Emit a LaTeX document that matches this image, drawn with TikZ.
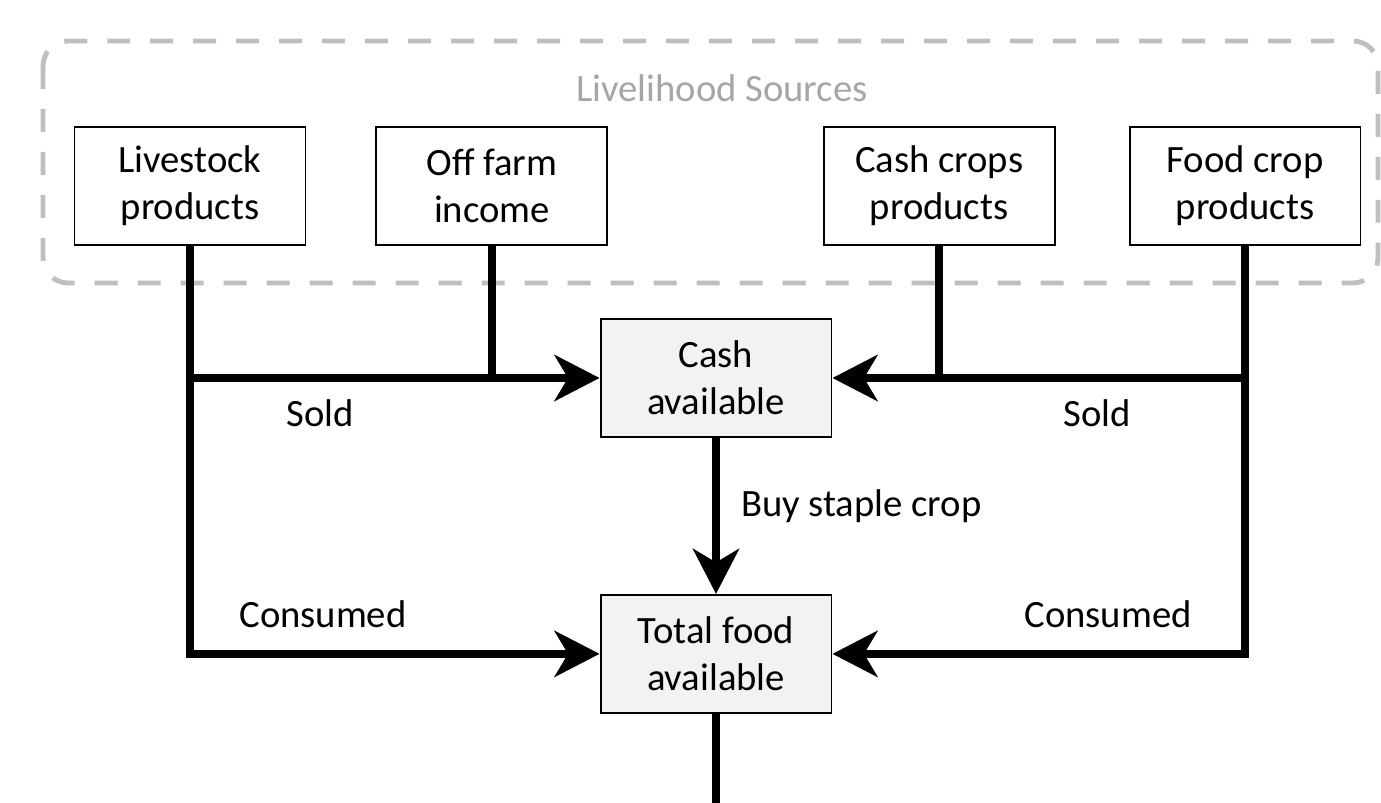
\documentclass[tikz,border=0pt]{standalone}
\usepackage{fontspec}
\setmainfont{Carlito}
\usetikzlibrary{arrows.meta,positioning}

\begin{document}
\begin{tikzpicture}[
    x=0.02cm, y=-0.02cm,
    txt/.style={font=\fontsize{22}{26.7}\selectfont},
    srcbox/.style={txt, rectangle, draw, line width=1.1pt, align=center, minimum width=4.62cm, minimum height=2.36cm, inner sep=0pt},
    poolbox/.style={srcbox, fill=black!5},
    link/.style={line width=4.5pt},
    arrow/.style={link, -{Stealth[length=0.9cm, width=0.92cm, inset=0.27cm]}},
    lbl/.style={txt}
]
    \useasboundingbox (0,0) rectangle (1381,803);

    % livelihood sources group
    \draw[black!25, line width=2.8pt, dash pattern=on 0.46cm off 0.4cm, rounded corners=0.5cm]
        (43,41) rectangle (1378,283);
    \node[txt, text=black!35] (title) at (722,88) {Livelihood Sources};

    \node[srcbox] (livestock) at (190,186) {Livestock\\products};
    \node[srcbox, right=1.38cm of livestock] (offfarm) {Off farm\\income};
    \node[srcbox] (foodcrop) at (1245,186) {Food crop\\products};
    \node[srcbox, left=1.46cm of foodcrop] (cashcrop) {Cash crops\\products};

    \node[poolbox] (cash) at (716,378) {Cash\\available};
    \node[poolbox, below=3.12cm of cash] (total) {Total food\\available};
    \coordinate[below=2cm of total] (exit);

    \draw[arrow] (livestock) -- (livestock |- total) -- (total);
    \draw[arrow] (foodcrop) -- (foodcrop |- total) -- (total);
    \draw[arrow] (livestock |- cash) -- (cash);
    \draw[arrow] (foodcrop |- cash) -- (cash);
    \draw[link] (offfarm) -- (offfarm |- cash);
    \draw[link] (cashcrop) -- (cashcrop |- cash);
    \draw[arrow] (cash) -- (total);
    \draw[link] (total) -- (exit);

    \node[lbl] (soldl) at (320,413) {Sold};
    \node[lbl] (soldr) at (1097,413) {Sold};
    \node[lbl, anchor=west] (buy) at (735,506) {Buy staple crop};
    \node[lbl] (consl) at (323,614) {Consumed};
    \node[lbl] (consr) at (1108,614) {Consumed};
\end{tikzpicture}
\end{document}
